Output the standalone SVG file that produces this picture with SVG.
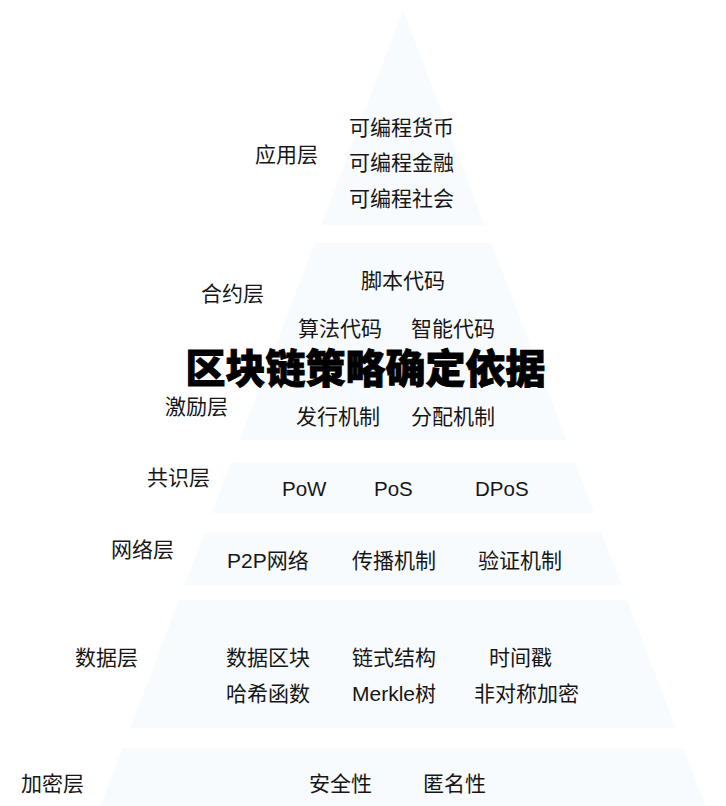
<svg xmlns="http://www.w3.org/2000/svg" width="726" height="806" viewBox="0 0 726 806">
<style>
.band{fill:#f8fbfd;stroke:none}
.t{font-family:"Liberation Sans","Noto Sans CJK SC",sans-serif;font-size:21px;fill:#161616}
.lat{font-size:20.5px}
.title{font-family:"Noto Sans CJK SC",sans-serif;font-size:40px;font-weight:900;fill:#000;stroke:#000;stroke-width:0.9}
</style>
<rect width="726" height="806" fill="#ffffff"/>
<g id="app-layer">
<polygon class="band" points="403,10 484.7,225 321.3,225"/>
<text class="t" x="255" y="162">应用层</text>
<text class="t" x="349" y="135">可编程货币</text>
<text class="t" x="349" y="170">可编程金融</text>
<text class="t" x="349" y="206">可编程社会</text>
</g>
<g id="contract-incentive-layer">
<polygon class="band" points="314.5,243 491.5,243 566.4,440 239.6,440"/>
<text class="t" x="201" y="301">合约层</text>
<text class="t" x="361" y="288">脚本代码</text>
<text class="t" x="298" y="336">算法代码</text>
<text class="t" x="411" y="336">智能代码</text>
<text class="t" x="165" y="414">激励层</text>
<text class="t" x="296" y="424">发行机制</text>
<text class="t" x="411" y="424">分配机制</text>
</g>
<g id="consensus-layer">
<polygon class="band" points="231.2,462 574.8,462 594.1,513 211.9,513"/>
<text class="t" x="147" y="485">共识层</text>
<text class="t lat" x="282" y="496">PoW</text>
<text class="t lat" x="374" y="496">PoS</text>
<text class="t lat" x="475" y="496">DPoS</text>
</g>
<g id="network-layer">
<polygon class="band" points="204.6,532 601.4,532 621.5,585 184.5,585"/>
<text class="t" x="111" y="557">网络层</text>
<text class="t" x="227" y="568">P2P网络</text>
<text class="t" x="352" y="568">传播机制</text>
<text class="t" x="478" y="568">验证机制</text>
</g>
<g id="data-layer">
<polygon class="band" points="178.8,600 627.2,600 675.8,728 130.2,728"/>
<text class="t" x="75" y="665">数据层</text>
<text class="t" x="226" y="665">数据区块</text>
<text class="t" x="352" y="665">链式结构</text>
<text class="t" x="489" y="665">时间戳</text>
<text class="t" x="226" y="701">哈希函数</text>
<text class="t" x="352" y="701">Merkle树</text>
<text class="t" x="474" y="701">非对称加密</text>
</g>
<g id="crypto-layer">
<polygon class="band" points="122.6,748 683.4,748 705.5,806 100.5,806"/>
<text class="t" x="21" y="791">加密层</text>
<text class="t" x="309" y="791">安全性</text>
<text class="t" x="423" y="791">匿名性</text>
</g>
<g id="title">
<text class="title" x="365.5" y="383" text-anchor="middle">区块链策略确定依据</text>
</g>
</svg>
